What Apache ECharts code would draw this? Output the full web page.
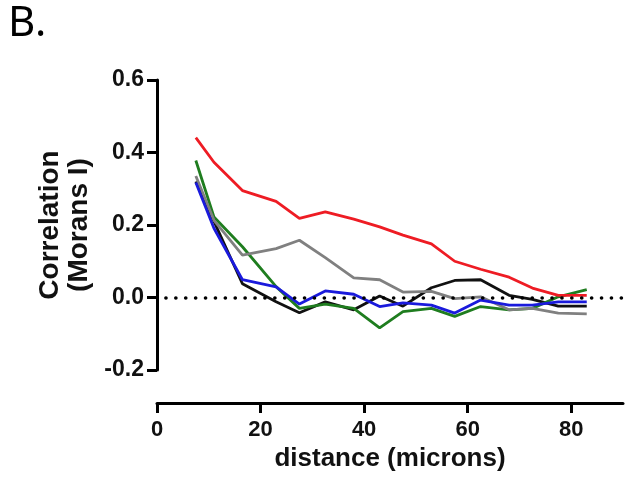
<!DOCTYPE html>
<html>
<head>
<meta charset="utf-8">
<script src="https://cdn.jsdelivr.net/npm/echarts@6/dist/echarts.min.js"></script>
<style>
  html, body { margin: 0; padding: 0; background: #fff; }
  #chart { width: 626px; height: 496px; }
</style>
</head>
<body>
<div id="chart"></div>
<script>
// distance (microns) of each lag bin
const distance = [7.5, 11, 16.5, 23, 27.5, 32.5, 38, 43, 47.5, 53, 57.5, 62.5, 68, 72.5, 77.5, 83]

// Moran's I per sample
const redVals = [0.441, 0.373, 0.295, 0.265, 0.218, 0.236, 0.216, 0.195, 0.172, 0.148, 0.100, 0.078, 0.056, 0.026, 0.006, 0.006]
const greyVals = [0.335, 0.213, 0.117, 0.135, 0.158, 0.110, 0.054, 0.049, 0.015, 0.017, -0.003, 0.002, -0.034, -0.030, -0.043, -0.045]
const blueVals = [0.317, 0.191, 0.049, 0.029, -0.018, 0.018, 0.009, -0.025, -0.015, -0.021, -0.043, -0.007, -0.021, -0.021, -0.012, -0.012]
const blackVals = [0.320, 0.210, 0.038, -0.012, -0.042, -0.012, -0.034, 0.004, -0.024, 0.027, 0.047, 0.049, 0.006, -0.005, -0.024, -0.024]
const greenVals = [0.378, 0.222, 0.140, 0.030, -0.030, -0.018, -0.030, -0.084, -0.039, -0.030, -0.052, -0.025, -0.034, -0.030, 0.002, 0.022]

const xTicks = [0, 20, 40, 60, 80]
const yTicks = [-0.2, 0, 0.2, 0.4, 0.6]

const chart = echarts.init(document.getElementById('chart'))

const pairs = vals => distance.map((d, i) => [d, vals[i]])

const lineSeries = (name, vals, color) => ({
  name,
  type: 'line',
  data: pairs(vals),
  showSymbol: false,
  silent: true,
  lineStyle: { color, width: 2.8 },
})

const axisFont = {
  fontFamily: 'Liberation Sans, Arial, sans-serif',
  fontWeight: 'bold',
  color: '#111',
}

chart.setOption({
  animation: false,
  graphic: [
    {
      type: 'text',
      left: 8,
      top: 3,
      style: { text: 'B.', font: '42px "Noto Sans"', fill: '#000' },
    },
  ],
  grid: { left: 157, right: 3, top: 80, bottom: 126 },
  xAxis: {
    type: 'value',
    min: 0,
    max: 90,
    offset: 33,
    name: 'distance (microns)',
    nameLocation: 'middle',
    nameGap: 41,
    nameTextStyle: { ...axisFont, fontSize: 26 },
    splitLine: { show: false },
    axisLine: { onZero: false, lineStyle: { color: '#000', width: 3 } },
    axisTick: { customValues: xTicks, length: 10, lineStyle: { color: '#000', width: 3 } },
    axisLabel: { customValues: xTicks, margin: 16, ...axisFont, fontSize: 22 },
  },
  yAxis: {
    type: 'value',
    min: -0.2,
    max: 0.6,
    interval: 0.2,
    name: 'Correlation\n(Morans I)',
    nameLocation: 'middle',
    nameRotate: 90,
    nameGap: 58,
    nameTextStyle: { ...axisFont, fontSize: 28, lineHeight: 29 },
    splitLine: { show: false },
    axisLine: { show: true, onZero: false, lineStyle: { color: '#000', width: 3 } },
    axisTick: { show: true, length: 10, lineStyle: { color: '#000', width: 3 } },
    axisLabel: {
      customValues: yTicks,
      margin: 13,
      ...axisFont,
      fontSize: 23,
      formatter: v => v.toFixed(1),
    },
  },
  series: [
    {
      ...lineSeries('black', blackVals, '#111111'),
      markLine: {
        silent: true,
        symbol: 'none',
        label: { show: false },
        lineStyle: { color: '#000', type: [0.1, 9.8], width: 3.6, cap: 'round', dashOffset: 1 },
        data: [{ yAxis: 0 }],
      },
    },
    lineSeries('green', greenVals, '#1f7d1f'),
    lineSeries('grey', greyVals, '#808080'),
    lineSeries('blue', blueVals, '#1a1adc'),
    lineSeries('red', redVals, '#ee1c24'),
  ],
})
</script>
</body>
</html>
